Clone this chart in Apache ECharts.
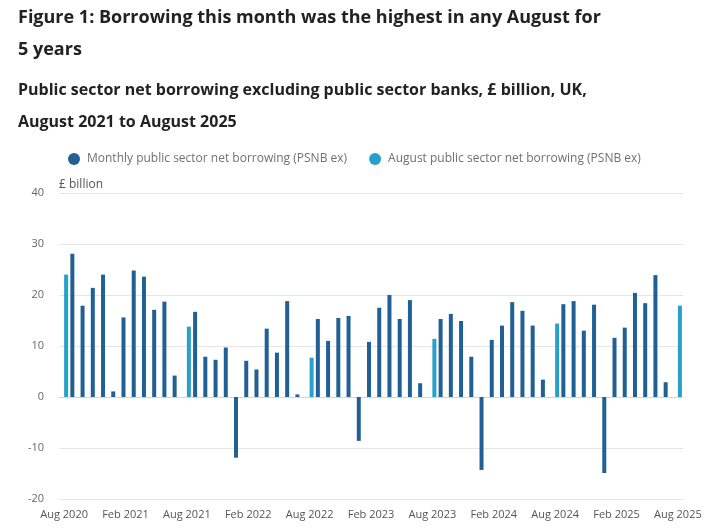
<!DOCTYPE html>
<html>
<head>
<meta charset="utf-8">
<script src="https://cdn.jsdelivr.net/npm/echarts@6/dist/echarts.min.js"></script>
<style>
  html, body { margin: 0; padding: 0; background: #fff; }
  #chart { width: 720px; height: 532px; }
</style>
</head>
<body>
<div id="chart"></div>
<script>
// month labels, Aug 2020 .. Aug 2025
var months = [
  'Aug 2020', 'Sep 2020', 'Oct 2020', 'Nov 2020', 'Dec 2020',
  'Jan 2021', 'Feb 2021', 'Mar 2021', 'Apr 2021', 'May 2021', 'Jun 2021', 'Jul 2021',
  'Aug 2021', 'Sep 2021', 'Oct 2021', 'Nov 2021', 'Dec 2021',
  'Jan 2022', 'Feb 2022', 'Mar 2022', 'Apr 2022', 'May 2022', 'Jun 2022', 'Jul 2022',
  'Aug 2022', 'Sep 2022', 'Oct 2022', 'Nov 2022', 'Dec 2022',
  'Jan 2023', 'Feb 2023', 'Mar 2023', 'Apr 2023', 'May 2023', 'Jun 2023', 'Jul 2023',
  'Aug 2023', 'Sep 2023', 'Oct 2023', 'Nov 2023', 'Dec 2023',
  'Jan 2024', 'Feb 2024', 'Mar 2024', 'Apr 2024', 'May 2024', 'Jun 2024', 'Jul 2024',
  'Aug 2024', 'Sep 2024', 'Oct 2024', 'Nov 2024', 'Dec 2024',
  'Jan 2025', 'Feb 2025', 'Mar 2025', 'Apr 2025', 'May 2025', 'Jun 2025', 'Jul 2025',
  'Aug 2025'
];

// monthly PSNB ex (£bn), Augusts left empty
var monthly = [
  null, 28.1, 17.9, 21.4, 24.0,
  1.1, 15.6, 24.8, 23.6, 17.1, 18.7, 4.2,
  null, 16.7, 7.9, 7.3, 9.7,
  -11.9, 7.1, 5.4, 13.4, 8.7, 18.8, 0.5,
  null, 15.3, 11.0, 15.5, 15.9,
  -8.6, 10.8, 17.5, 20.0, 15.3, 19.0, 2.7,
  null, 15.3, 16.3, 14.9, 7.9,
  -14.3, 11.2, 14.0, 18.6, 16.9, 14.0, 3.4,
  null, 18.2, 18.8, 13.0, 18.1,
  -14.9, 11.6, 13.6, 20.4, 18.4, 23.9, 2.9,
  null
];

// August values only
var august = [
  24.0, null, null, null, null, null, null, null, null, null, null, null,
  13.8, null, null, null, null, null, null, null, null, null, null, null,
  7.7, null, null, null, null, null, null, null, null, null, null, null,
  11.4, null, null, null, null, null, null, null, null, null, null, null,
  14.4, null, null, null, null, null, null, null, null, null, null, null,
  17.9
];

var yTicks = { min: -20, max: 40, step: 10 };

var font = 'Open Sans';
var chart = echarts.init(document.getElementById('chart'));

var option = {
  animation: false,
  textStyle: { fontFamily: font },
  title: [
    {
      text: 'Figure 1: Borrowing this month was the highest in any August for\n5 years',
      left: 18,
      top: 2,
      padding: 0,
      textStyle: { fontFamily: font, fontSize: 18, fontWeight: 'bold', color: '#222222', lineHeight: 32 }
    },
    {
      text: 'Public sector net borrowing excluding public sector banks, £ billion, UK,\nAugust 2021 to August 2025',
      left: 18,
      top: 74,
      padding: 0,
      textStyle: { fontFamily: font, fontSize: 16, fontWeight: 'bold', color: '#222222', lineHeight: 32 }
    }
  ],
  legend: {
    left: 68,
    top: 153,
    padding: 0,
    icon: 'circle',
    itemWidth: 12,
    itemHeight: 12,
    itemGap: 22,
    textStyle: { fontFamily: font, fontSize: 12, color: '#707071', padding: [0, 0, 0, 2] },
    data: ['Monthly public sector net borrowing (PSNB ex)', 'August public sector net borrowing (PSNB ex)']
  },
  grid: { left: 59, right: 37, top: 193, bottom: 33 },
  xAxis: {
    type: 'category',
    data: months,
    boundaryGap: true,
    axisLine: { lineStyle: { color: '#ccd6eb' } },
    axisTick: { alignWithLabel: true, interval: 5, length: 9, lineStyle: { color: '#ccd6eb' } },
    axisLabel: { interval: 5, margin: 10, fontSize: 11, color: '#555555', fontFamily: font }
  },
  yAxis: {
    type: 'value',
    min: yTicks.min,
    max: yTicks.max,
    interval: yTicks.step,
    name: '£ billion',
    nameLocation: 'end',
    nameGap: 2,
    nameTextStyle: { align: 'left', fontFamily: font, fontSize: 12, color: '#555555' },
    axisLine: { show: false },
    axisTick: { show: false },
    axisLabel: { margin: 15, fontSize: 11, color: '#666666', fontFamily: font },
    splitLine: { lineStyle: { color: '#e6e6e6', width: 1 } }
  },
  series: [
    {
      name: 'Monthly public sector net borrowing (PSNB ex)',
      type: 'bar',
      data: monthly,
      barWidth: 4,
      barGap: '0%',
      itemStyle: { color: '#206095' }
    },
    {
      name: 'August public sector net borrowing (PSNB ex)',
      type: 'bar',
      data: august,
      barWidth: 4,
      barGap: '0%',
      itemStyle: { color: '#27a0cc' }
    }
  ]
};

chart.setOption(option);
</script>
</body>
</html>
